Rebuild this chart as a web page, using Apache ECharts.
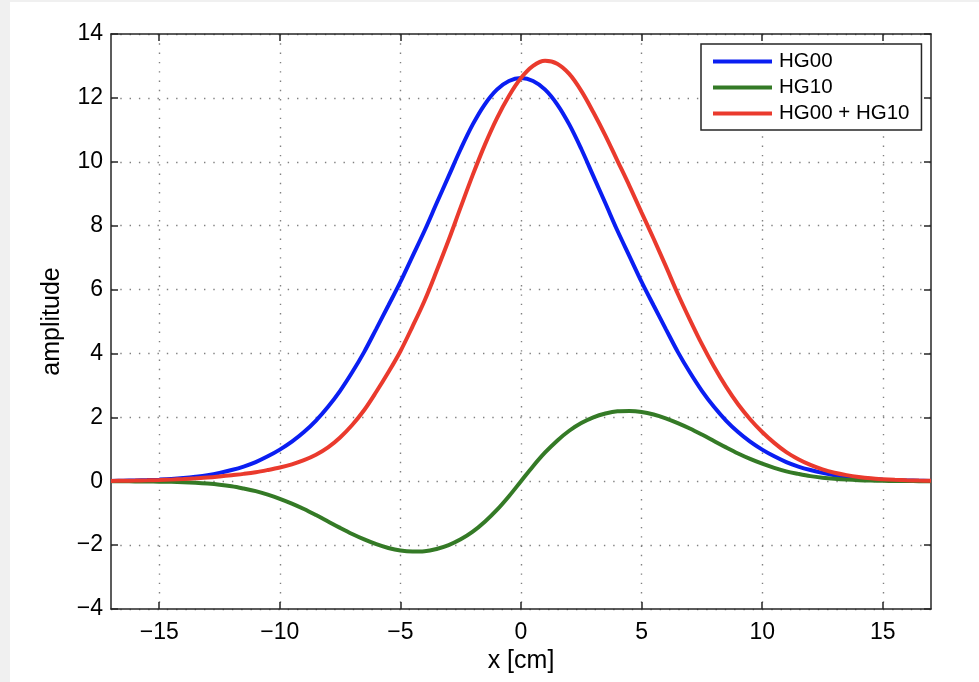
<!DOCTYPE html>
<html>
<head>
<meta charset="utf-8">
<script src="https://cdn.jsdelivr.net/npm/echarts@6/dist/echarts.min.js"></script>
<style>
html,body{margin:0;padding:0;background:#f0f0f0;}
#chart{width:979px;height:682px;}
</style>
</head>
<body>
<div id="chart"></div>
<script>
// ---- data ----
var xValues = [-17,-16.5,-16,-15.5,-15,-14.5,-14,-13.5,-13,-12.5,-12,-11.5,-11,-10.5,-10,-9.5,-9,-8.5,-8,-7.5,-7,-6.5,-6,-5.5,-5,-4.5,-4,-3.5,-3,-2.5,-2,-1.5,-1,-0.5,0,0.5,1,1.5,2,2.5,3,3.5,4,4.5,5,5.5,6,6.5,7,7.5,8,8.5,9,9.5,10,10.5,11,11.5,12,12.5,13,13.5,14,14.5,15,15.5,16,16.5,17];
var hg00 = [0.01,0.016,0.024,0.035,0.05,0.07,0.1,0.14,0.19,0.26,0.35,0.46,0.6,0.78,0.99,1.24,1.54,1.9,2.33,2.83,3.41,4.05,4.77,5.5,6.24,7.04,7.84,8.7,9.55,10.4,11.17,11.8,12.26,12.53,
            12.62,
            12.53,12.26,11.8,11.17,10.4,9.55,8.7,7.84,7.04,6.24,5.5,4.77,4.05,3.41,2.83,2.33,1.9,1.54,1.24,0.99,0.78,0.6,0.46,0.35,0.26,0.19,0.14,0.1,0.07,0.05,0.035,0.024,0.016,0.01];
var hg10 = [-0.002,-0.003,-0.005,-0.008,-0.013,-0.02,-0.032,-0.05,-0.075,-0.11,-0.16,-0.23,-0.31,-0.42,-0.55,-0.7,-0.87,-1.06,-1.26,-1.46,-1.65,-1.82,-1.97,-2.09,-2.17,-2.2,-2.19,-2.12,-2.0,-1.82,-1.58,-1.27,-0.9,-0.47,
            0,
            0.47,0.9,1.27,1.58,1.82,2.0,2.12,2.19,2.2,2.17,2.09,1.97,1.82,1.65,1.46,1.26,1.06,0.87,0.7,0.55,0.42,0.31,0.23,0.16,0.11,0.075,0.05,0.032,0.02,0.013,0.008,0.005,0.003,0.002];
var hgSum = [0.008,0.013,0.019,0.027,0.037,0.05,0.068,0.09,0.115,0.15,0.19,0.23,0.28,0.35,0.43,0.53,0.66,0.83,1.06,1.37,1.76,2.23,2.8,3.41,4.07,4.84,5.65,6.58,7.55,8.58,9.59,10.53,11.36,12.06,
             12.62,
             13.0,13.16,13.07,12.75,12.22,11.55,10.82,10.03,9.24,8.41,7.59,6.74,5.87,5.06,4.29,3.59,2.96,2.41,1.94,1.54,1.2,0.91,0.69,0.51,0.37,0.265,0.19,0.132,0.09,0.063,0.043,0.029,0.019,0.012];
var seriesNames = ['HG00','HG10','HG00 + HG10'];
var xTicks = [-15,-10,-5,0,5,10,15];
var xRange = [-17,17];
var yRange = [-4,14];
var yStep = 2;
var xName = 'x [cm]';
var yName = 'amplitude';

function pairs(ys){ return xValues.map(function(x,i){ return [x, ys[i]]; }); }
function fmt(v){ return v < 0 ? '\u2212' + Math.abs(v) : String(v); }

var FONT = '"Liberation Sans", Arial, Helvetica, sans-serif';
var AX = '#262626';
var gridLine = { show: true, lineStyle: { color: '#808080', width: 1.4, type: [1.4, 7.9] } };

var chart = echarts.init(document.getElementById('chart'), null, { renderer: 'canvas' });
chart.setOption({
  backgroundColor: '#f0f0f0',
  animation: false,
  graphic: [{
    type: 'rect', z: -100, silent: true,
    shape: { x: 10, y: 2, width: 969, height: 680 },
    style: { fill: '#ffffff' }
  }],
  grid: { left: 111, top: 34, right: 48, bottom: 73, outerBoundsMode: 'none', containLabel: false },
  legend: {
    orient: 'vertical', left: 701, top: 44,
    padding: [7, 12, 6, 12],
    backgroundColor: '#ffffff', borderColor: AX, borderWidth: 1.5, borderRadius: 0,
    icon: 'rect', itemWidth: 59, itemHeight: 4, itemGap: 5,
    textStyle: { fontFamily: FONT, fontSize: 20.5, color: '#000', lineHeight: 20, padding: [0,0,0,2] },
    data: seriesNames
  },
  xAxis: [{
    type: 'value', min: xRange[0], max: xRange[1], position: 'bottom',
    name: xName, nameLocation: 'middle', nameGap: 35,
    nameTextStyle: { fontFamily: FONT, fontSize: 25, color: '#000' },
    axisLine: { show: true, onZero: false, lineStyle: { color: AX, width: 1.5 } },
    axisTick: { show: true, inside: true, length: 7, customValues: xTicks, lineStyle: { color: AX, width: 1.5 } },
    axisLabel: { customValues: xTicks, formatter: fmt, margin: 12, fontFamily: FONT, fontSize: 23, color: '#000' },
    splitLine: gridLine
  }, {
    type: 'value', min: xRange[0], max: xRange[1], position: 'top',
    axisLine: { show: true, onZero: false, lineStyle: { color: AX, width: 1.5 } },
    axisTick: { show: true, inside: true, length: 7, customValues: xTicks, lineStyle: { color: AX, width: 1.5 } },
    axisLabel: { show: false },
    splitLine: { show: false }
  }],
  yAxis: [{
    type: 'value', min: yRange[0], max: yRange[1], interval: yStep, position: 'left',
    name: yName, nameLocation: 'middle', nameGap: 46, nameRotate: 90,
    nameTextStyle: { fontFamily: FONT, fontSize: 25, color: '#000' },
    axisLine: { show: true, onZero: false, lineStyle: { color: AX, width: 1.5 } },
    axisTick: { show: true, inside: true, length: 7, lineStyle: { color: AX, width: 1.5 } },
    axisLabel: { formatter: fmt, margin: 8, fontFamily: FONT, fontSize: 23, color: '#000', showMinLabel: true, showMaxLabel: true },
    splitLine: gridLine
  }, {
    type: 'value', min: yRange[0], max: yRange[1], interval: yStep, position: 'right',
    axisLine: { show: true, onZero: false, lineStyle: { color: AX, width: 1.5 } },
    axisTick: { show: true, inside: true, length: 7, lineStyle: { color: AX, width: 1.5 } },
    axisLabel: { show: false },
    splitLine: { show: false }
  }],
  series: [
    { name: seriesNames[0], type: 'line', data: pairs(hg00), smooth: 0.35, showSymbol: false, symbol: 'none', lineStyle: { color: '#0a1ef2', width: 4 }, itemStyle: { color: '#0a1ef2' } },
    { name: seriesNames[1], type: 'line', data: pairs(hg10), smooth: 0.35, showSymbol: false, symbol: 'none', lineStyle: { color: '#347a26', width: 4 }, itemStyle: { color: '#347a26' } },
    { name: seriesNames[2], type: 'line', data: pairs(hgSum), smooth: 0.35, showSymbol: false, symbol: 'none', lineStyle: { color: '#ea3a2d', width: 4 }, itemStyle: { color: '#ea3a2d' } }
  ]
});
</script>
</body>
</html>
